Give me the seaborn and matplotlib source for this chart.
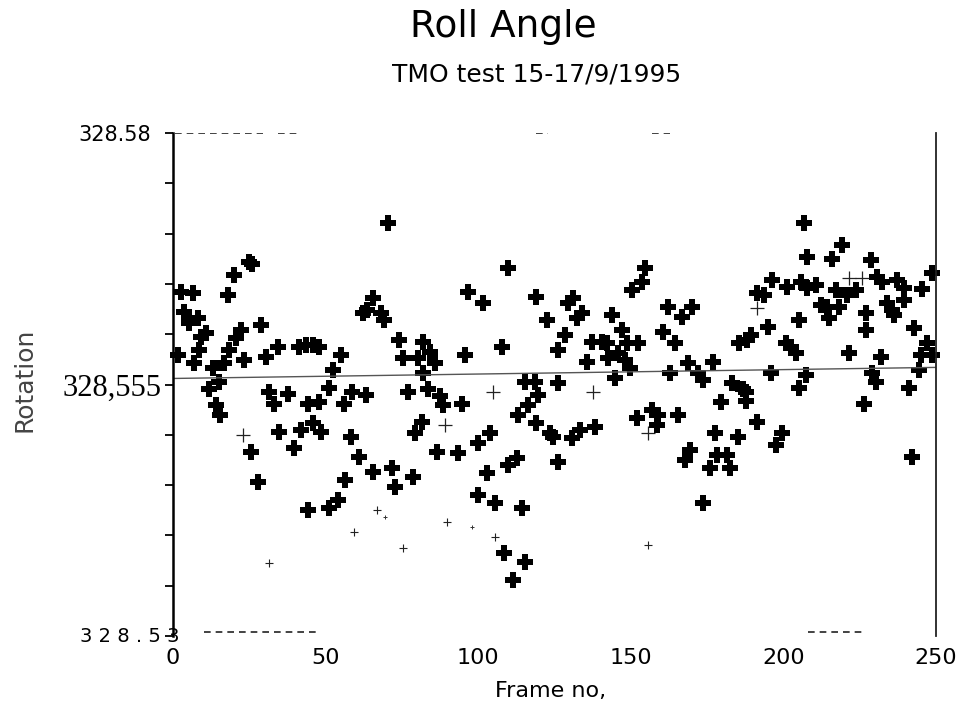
import matplotlib
matplotlib.use("Agg")
import matplotlib.pyplot as plt
import matplotlib.transforms as mtransforms
import seaborn as sns

# ---------------- data ----------------
bold_frame = [1.6, 2.6, 6.5, 3.6, 8.2, 5.2, 10.8, 9.2, 6.9, 8.5, 13.1, 16.7, 18.3, 18.0, 19.9, 24.8, 25.8,
              22.2, 20.6, 23.2, 28.8, 30.4, 34.3, 41.2, 43.5, 45.8, 47.7, 54.9, 52.3, 65.4, 62.1, 63.7, 68.0,
              69.0, 70.6, 73.9, 82.0, 75.5, 80.4, 84.3, 82.0, 11.8, 15.0, 31.4, 37.6, 51.0, 58.8, 63.1, 77.1,
              83.7, 14.1, 15.4, 33.0, 44.1, 47.7, 55.9, 34.6, 41.8, 45.8, 48.4, 58.2, 81.7, 79.4, 25.5, 39.5,
              60.8, 65.4, 71.9, 78.8, 56.5, 72.9, 27.8, 44.1, 51.0, 54.2,
              85.9, 87.6, 88.6, 94.8, 95.8, 96.7, 101.6, 107.8, 109.8, 115.4, 118.6, 119.6, 116.3, 113.1,
              119.0, 122.5, 126.1, 126.1, 128.4, 129.4, 131.0, 132.4, 134.0, 135.6, 137.3, 140.5, 142.2,
              142.5, 145.8, 148.0, 149.7, 144.8, 143.8, 147.1, 148.7, 152.3, 150.3, 153.6, 154.6, 160.5,
              162.1, 166.7, 164.4, 162.7, 168.6, 169.9, 103.9, 100.0, 86.6, 93.5, 119.0, 123.5, 124.5, 130.7,
              133.3, 138.2, 112.7, 109.8, 102.9, 126.1, 100.0, 105.6, 114.4, 108.5, 115.4, 111.4, 152.0,
              156.9, 158.8, 158.5, 165.4, 169.3, 167.6,
              206.9, 219.3, 207.8, 216.0, 228.8, 196.4, 201.3, 205.9, 207.8, 210.8, 248.7, 230.7, 232.4,
              237.3, 239.5, 245.4, 191.5, 193.8, 217.3, 220.9, 223.9, 239.5, 212.4, 214.4, 218.3, 234.0,
              235.6, 236.3, 227.1, 215.0, 205.2, 194.8, 227.1, 242.8, 189.5, 188.2, 185.6, 201.0, 202.6,
              204.2, 247.1, 221.6, 232.0, 245.1, 248.7, 176.8, 171.9, 173.5, 196.1, 207.5, 205.2, 229.1,
              230.4, 244.4, 183.3, 186.6, 187.9, 241.2, 179.7, 187.9, 226.5, 191.2, 177.5, 185.0, 199.7,
              197.7, 178.4, 181.4, 175.8, 182.4, 173.5, 242.2]
bold_rotation = [328.5579, 328.5642, 328.5641, 328.5622, 328.5616, 328.5611, 328.5601, 328.5597, 328.5571,
                 328.5584, 328.5566, 328.5571, 328.5584, 328.5639, 328.5659, 328.5672, 328.5670, 328.5604,
                 328.5596, 328.5574, 328.5609, 328.5577, 328.5587, 328.5587, 328.5589, 328.5589, 328.5587,
                 328.5579, 328.5564, 328.5636, 328.5621, 328.5624, 328.5621, 328.5614, 328.5711, 328.5594,
                 328.5592, 328.5576, 328.5576, 328.5582, 328.5561, 328.5546, 328.5552, 328.5543, 328.5541,
                 328.5547, 328.5543, 328.5540, 328.5543, 328.5546, 328.5530, 328.5520, 328.5531, 328.5531,
                 328.5533, 328.5531, 328.5503, 328.5505, 328.5512, 328.5503, 328.5498, 328.5513, 328.5502,
                 328.5483, 328.5487, 328.5478, 328.5463, 328.5467, 328.5458, 328.5455, 328.5448, 328.5453,
                 328.5425, 328.5427, 328.5435,
                 328.5571, 328.5539, 328.5530, 328.5531, 328.5579, 328.5642, 328.5631, 328.5587, 328.5666,
                 328.5552, 328.5552, 328.5540, 328.5530, 328.5520, 328.5637, 328.5614, 328.5551, 328.5584,
                 328.5599, 328.5631, 328.5636, 328.5616, 328.5621, 328.5572, 328.5592, 328.5592, 328.5591,
                 328.5576, 328.5581, 328.5574, 328.5566, 328.5556, 328.5619, 328.5604, 328.5591, 328.5591,
                 328.5644, 328.5652, 328.5666, 328.5602, 328.5627, 328.5617, 328.5591, 328.5561, 328.5571,
                 328.5627, 328.5502, 328.5492, 328.5483, 328.5482, 328.5512, 328.5502, 328.5498, 328.5497,
                 328.5505, 328.5508, 328.5477, 328.5470, 328.5462, 328.5473, 328.5440, 328.5432, 328.5427,
                 328.5383, 328.5374, 328.5356, 328.5517, 328.5525, 328.5520, 328.5510, 328.5520, 328.5485,
                 328.5475,
                 328.5711, 328.5689, 328.5677, 328.5675, 328.5674, 328.5654, 328.5647, 328.5652, 328.5646,
                 328.5649, 328.5661, 328.5657, 328.5652, 328.5654, 328.5646, 328.5645, 328.5641, 328.5639,
                 328.5644, 328.5639, 328.5644, 328.5634, 328.5629, 328.5627, 328.5627, 328.5631, 328.5624,
                 328.5619, 328.5621, 328.5616, 328.5614, 328.5607, 328.5604, 328.5606, 328.5599, 328.5594,
                 328.5591, 328.5591, 328.5587, 328.5581, 328.5591, 328.5581, 328.5577, 328.5579, 328.5579,
                 328.5572, 328.5561, 328.5554, 328.5561, 328.5559, 328.5547, 328.5561, 328.5552, 328.5564,
                 328.5551, 328.5546, 328.5543, 328.5547, 328.5533, 328.5534, 328.5531, 328.5513, 328.5502,
                 328.5498, 328.5502, 328.5490, 328.5480, 328.5480, 328.5467, 328.5467, 328.5432, 328.5478]

thin_large_frame = [22.9, 89.2, 104.9, 137.6, 155.6, 191.2, 221.6, 225.8]
thin_large_rotation = [328.5500, 328.5510, 328.5543, 328.5543, 328.5502, 328.5626, 328.5656, 328.5656]

thin_small_frame = [31.4, 59.2, 67.0, 75.2, 89.9, 105.6, 155.6]
thin_small_rotation = [328.5373, 328.5403, 328.5425, 328.5387, 328.5413, 328.5398, 328.5390]

tiny_frame = [69.5, 98.0]
tiny_rotation = [328.5418, 328.5408]

trend_frame = [0, 250]
trend_rotation = [328.5556, 328.5567]

x_ticks = [0, 50, 100, 150, 200, 250]
x_tick_labels = ["0", "50", "100", "150", "200", "250"]
y_ticks = [328.53, 328.535, 328.54, 328.545, 328.55, 328.555, 328.56, 328.565, 328.57, 328.575, 328.58]
y_tick_labels = ["", "", "", "", "", "328,555", "", "", "", "", "328.58"]

# dashed fragments of old grid lines (frame from, frame to, rotation)
dash_start = [0.5, 34.5, 119.0, 157.0, 10.0, 208.0]
dash_end = [29.5, 42.0, 123.0, 163.0, 48.0, 227.0]
dash_level = [328.58, 328.58, 328.58, 328.58, 328.5304, 328.5304]

title_text = "Roll Angle"
subtitle_text = "TMO test 15-17/9/1995"
xlabel_text = "Frame no,"
ylabel_text = "Rotation"
bottom_label = "3 2 8 . 5 3"

# ---------------- drawing ----------------
sns.set_style("white")
plt.rcParams["font.family"] = ["DejaVu Sans"]
plt.rcParams["text.color"] = "black"
plt.rcParams["axes.labelcolor"] = "black"
plt.rcParams["xtick.color"] = "black"
plt.rcParams["ytick.color"] = "black"

fig = plt.figure(figsize=(9.64, 7.07), dpi=100)
W, H = 964, 707
ax = fig.add_axes([173 / W, 1 - 636 / H, (936 - 173) / W, (636 - 133) / H])

sns.lineplot(x=trend_frame, y=trend_rotation, color="#555555", linewidth=1.0, ax=ax)
ax.hlines(dash_level, dash_start, dash_end, colors="#222222", linewidth=1.2,
          linestyles=(0, (4, 3)))

sns.scatterplot(x=bold_frame, y=bold_rotation, marker="P", s=118, color="black",
                linewidth=0, ax=ax, clip_on=False)
sns.scatterplot(x=thin_large_frame, y=thin_large_rotation, marker="+", s=110, color="#222222",
                linewidth=0.9, ax=ax)
sns.scatterplot(x=thin_small_frame, y=thin_small_rotation, marker="+", s=36, color="#222222",
                linewidth=0.8, ax=ax)
sns.scatterplot(x=tiny_frame, y=tiny_rotation, marker="+", s=10, color="#333333",
                linewidth=0.7, ax=ax)

ax.set_xlim(0, 250)
ax.set_ylim(328.53, 328.58)
ax.set_xlabel("")
ax.set_ylabel("")

ax.set_xticks(x_ticks)
ax.set_xticklabels(x_tick_labels, fontsize=16, color="black")
ax.tick_params(axis="x", length=0, pad=9, bottom=False)

ax.set_yticks(y_ticks)
ax.set_yticklabels(y_tick_labels, color="black")
ax.tick_params(axis="y", direction="out", length=6, width=1.3, color="black", left=True)

for lbl in ax.get_yticklabels():
    if lbl.get_text() == "328,555":
        lbl.set_fontfamily("Liberation Serif")
        lbl.set_fontsize(22)
    else:
        lbl.set_fontsize(15)
yt = ax.yaxis.get_major_ticks()
yt[5].set_pad(2)
yt[10].set_pad(10)

trans = mtransforms.blended_transform_factory(ax.transAxes, ax.transData)
ax.text(0.009, 328.53, bottom_label, transform=trans, ha="right", va="center", fontsize=14,
        color="black")

for side in ["top", "bottom"]:
    ax.spines[side].set_visible(False)
ax.spines["left"].set_linewidth(1.8)
ax.spines["left"].set_color("black")
ax.spines["right"].set_linewidth(1.3)
ax.spines["right"].set_color("#222222")

fig.text(503 / W, 1 - 37 / H, title_text, ha="center", va="baseline", fontsize=27, color="black")
fig.text(537 / W, 1 - 81 / H, subtitle_text, ha="center", va="baseline", fontsize=18, color="black")
fig.text(551 / W, 1 - 697 / H, xlabel_text, ha="center", va="baseline", fontsize=16, color="black")
fig.text(25 / W, 1 - 380 / H, ylabel_text, ha="center", va="center", rotation=90,
         fontsize=18, color="#444444")

fig.savefig("out.png", dpi=100, facecolor="white")
